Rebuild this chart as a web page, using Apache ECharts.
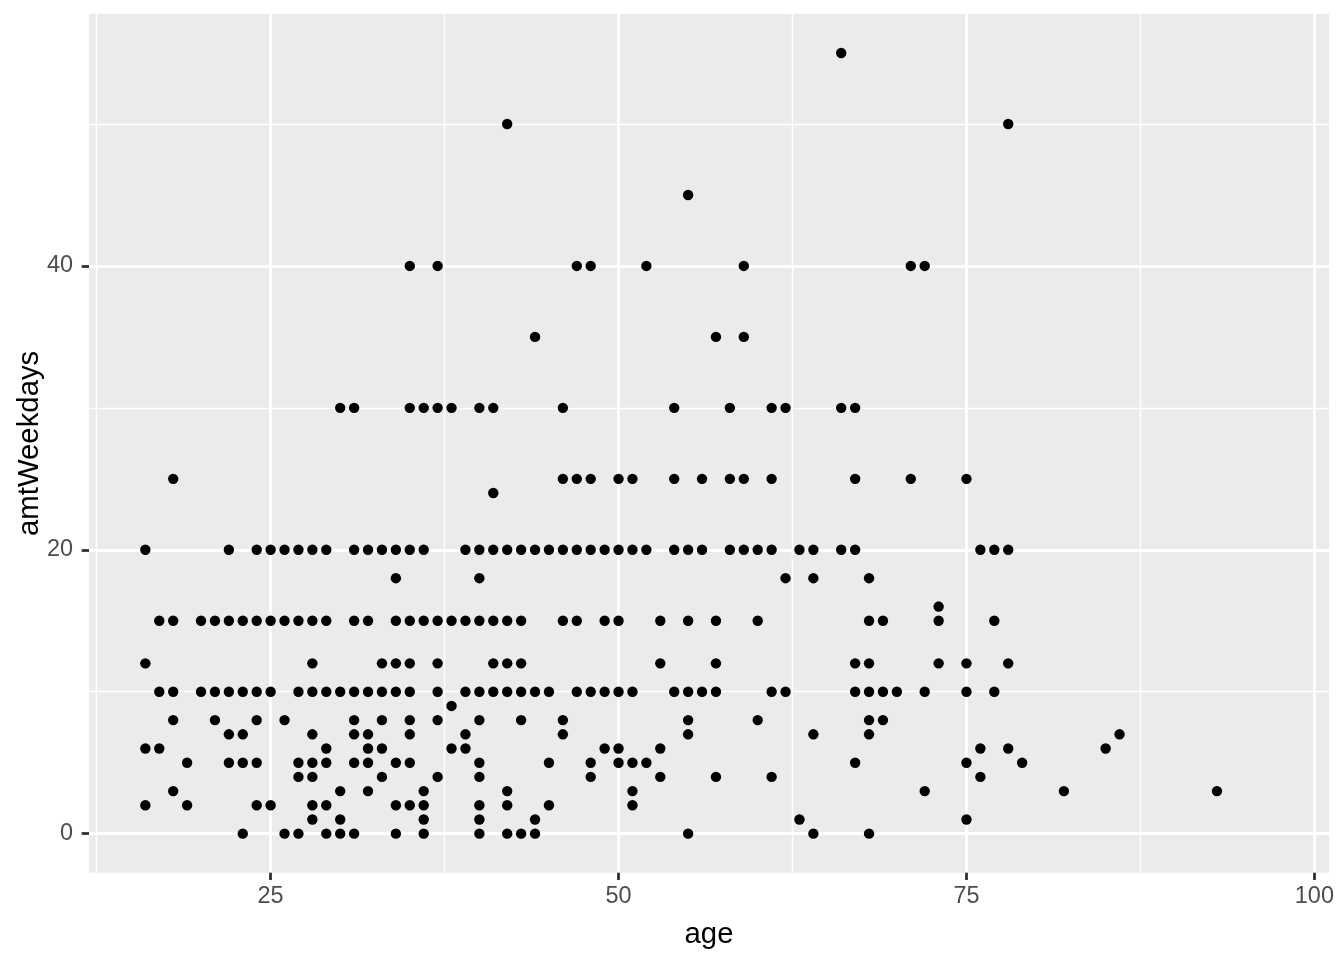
<!DOCTYPE html>
<html><head><meta charset="utf-8">
<script src="https://cdn.jsdelivr.net/npm/echarts@6/dist/echarts.min.js"></script>
<style>html,body{margin:0;padding:0;background:#fff}#c{width:1344px;height:960px}</style>
</head><body><div id="c"></div>
<script>
// ages observed at each amtWeekdays value
const agesAt55 = [66];
const agesAt50 = [42, 78];
const agesAt45 = [55];
const agesAt40 = [35, 37, 47, 48, 52, 59, 71, 72];
const agesAt35 = [44, 57, 59];
const agesAt30 = [30, 31, 35, 36, 37, 38, 40, 41, 46, 54, 58, 61, 62, 66, 67];
const agesAt25 = [18, 46, 47, 48, 50, 51, 54, 56, 58, 59, 61, 67, 71, 75];
const agesAt24 = [41];
const agesAt20 = [16, 22, 24, 25, 26, 27, 28, 29, 31, 32, 33, 34, 35, 36, 39, 40, 41, 42, 43, 44, 45, 46, 47, 48, 49, 50, 51, 52, 54, 55, 56, 58, 59, 60, 61, 63, 64, 66, 67, 76, 77, 78];
const agesAt18 = [34, 40, 62, 64, 68];
const agesAt16 = [73];
const agesAt15 = [17, 18, 20, 21, 22, 23, 24, 25, 26, 27, 28, 29, 31, 32, 34, 35, 36, 37, 38, 39, 40, 41, 42, 43, 46, 47, 49, 50, 53, 55, 57, 60, 68, 69, 73, 77];
const agesAt12 = [16, 28, 33, 34, 35, 37, 41, 42, 43, 53, 57, 67, 68, 73, 75, 78];
const agesAt10 = [17, 18, 20, 21, 22, 23, 24, 25, 27, 28, 29, 30, 31, 32, 33, 34, 35, 37, 39, 40, 41, 42, 43, 44, 45, 47, 48, 49, 50, 51, 54, 55, 56, 57, 61, 62, 67, 68, 69, 70, 72, 75, 77];
const agesAt9 = [38];
const agesAt8 = [18, 21, 24, 26, 31, 33, 35, 37, 40, 43, 46, 55, 60, 68, 69];
const agesAt7 = [22, 23, 28, 31, 32, 35, 39, 46, 55, 64, 68, 86];
const agesAt6 = [16, 17, 29, 32, 33, 38, 39, 49, 50, 53, 76, 78, 85];
const agesAt5 = [19, 22, 23, 24, 27, 28, 29, 31, 32, 34, 35, 40, 45, 48, 50, 51, 52, 67, 75, 79];
const agesAt4 = [27, 28, 33, 37, 40, 48, 53, 57, 61, 76];
const agesAt3 = [18, 30, 32, 36, 42, 51, 72, 82, 93];
const agesAt2 = [16, 19, 24, 25, 28, 29, 34, 35, 36, 40, 42, 45, 51];
const agesAt1 = [28, 30, 36, 40, 44, 63, 75];
const agesAt0 = [23, 26, 27, 29, 30, 31, 34, 36, 40, 42, 43, 44, 55, 64, 68];

const amtValues = [55, 50, 45, 40, 35, 30, 25, 24, 20, 18, 16, 15, 12, 10, 9, 8, 7, 6, 5, 4, 3, 2, 1, 0];
const agesByValue = [agesAt55, agesAt50, agesAt45, agesAt40, agesAt35, agesAt30, agesAt25, agesAt24, agesAt20, agesAt18, agesAt16, agesAt15, agesAt12, agesAt10, agesAt9, agesAt8, agesAt7, agesAt6, agesAt5, agesAt4, agesAt3, agesAt2, agesAt1, agesAt0];

const xTicks = [25, 50, 75, 100];
const xMinor = [12.5, 37.5, 62.5, 87.5];
const yTicks = [0, 20, 40];
const yMinor = [10, 30, 50];
const xRange = [11.95, 101.05];
const yRange = [-2.75, 57.75];

const points = [];
amtValues.forEach((v, i) => agesByValue[i].forEach(a => points.push([a, v])));

const FONT = "'Liberation Sans', Arial, sans-serif";
const chart = echarts.init(document.getElementById('c'), null, {renderer: 'canvas'});
chart.setOption({
  animation: false,
  backgroundColor: '#ffffff',
  grid: {left: 89, right: 15, top: 14, bottom: 87.3, show: true, backgroundColor: '#EBEBEB', borderWidth: 0},
  xAxis: [
    {
      type: 'value', min: xRange[0], max: xRange[1], position: 'bottom',
      axisLine: {show: false, onZero: false},
      axisTick: {show: true, customValues: xTicks, length: 7.33, lineStyle: {color: '#333333', width: 2.85}},
      axisLabel: {show: true, customValues: xTicks, color: '#4D4D4D', fontSize: 23.47, fontFamily: FONT, margin: 12},
      splitLine: {show: true, lineStyle: {color: '#ffffff', width: 2.85}},
      name: 'age', nameLocation: 'middle', nameGap: 48, nameMoveOverlap: false,
      nameTextStyle: {color: '#000000', fontSize: 29.33, fontFamily: FONT}
    },
    {
      type: 'value', min: xRange[0], max: xRange[1], position: 'bottom',
      axisLine: {show: false, onZero: false},
      axisTick: {show: false, customValues: xMinor},
      axisLabel: {show: false, customValues: xMinor},
      splitLine: {show: true, lineStyle: {color: '#ffffff', width: 1.42}}
    }
  ],
  yAxis: [
    {
      type: 'value', min: yRange[0], max: yRange[1], position: 'left',
      axisLine: {show: false, onZero: false},
      axisTick: {show: true, customValues: yTicks, length: 7.33, lineStyle: {color: '#333333', width: 2.85}},
      axisLabel: {show: true, customValues: yTicks, color: '#4D4D4D', fontSize: 23.47, fontFamily: FONT, margin: 16},
      splitLine: {show: true, lineStyle: {color: '#ffffff', width: 2.85}},
      name: 'amtWeekdays', nameLocation: 'middle', nameGap: 45, nameMoveOverlap: false,
      nameTextStyle: {color: '#000000', fontSize: 29.33, fontFamily: FONT}
    },
    {
      type: 'value', min: yRange[0], max: yRange[1], position: 'left',
      axisLine: {show: false, onZero: false},
      axisTick: {show: false, customValues: yMinor},
      axisLabel: {show: false, customValues: yMinor},
      splitLine: {show: true, lineStyle: {color: '#ffffff', width: 1.42}}
    }
  ],
  series: [{
    type: 'scatter', xAxisIndex: 0, yAxisIndex: 0,
    data: points, symbol: 'circle', symbolSize: 10.4,
    itemStyle: {color: '#000000', opacity: 1},
    emphasis: {disabled: true}
  }]
});
</script></body></html>
